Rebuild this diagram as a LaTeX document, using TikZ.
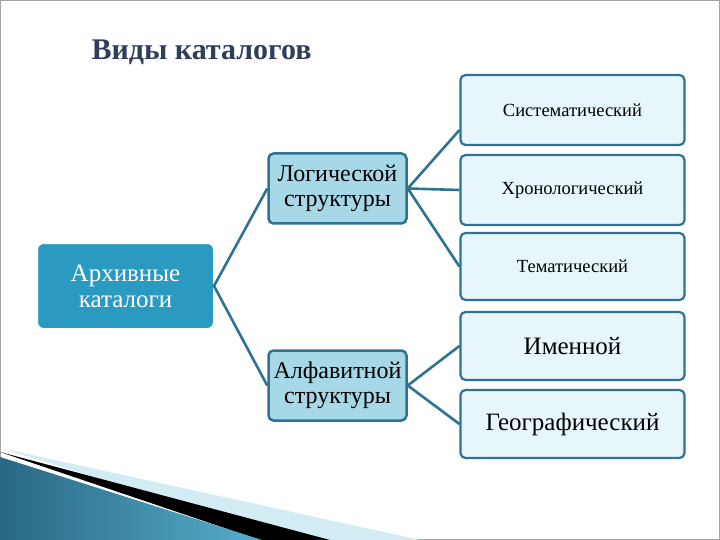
\documentclass[tikz,border=0pt]{standalone}
\usepackage{fontspec}
\setmainfont{Liberation Serif}
\definecolor{teal1}{HTML}{2B9AC0}
\definecolor{dteal}{HTML}{2E7391}
\definecolor{lblue}{HTML}{A6D8E8}
\definecolor{pale}{HTML}{E6F6FA}
\definecolor{ttl}{HTML}{2F3F5A}
\begin{document}
\begin{tikzpicture}[x=1pt,y=-1pt,
 rbox/.style={draw=dteal,line width=2.2pt,fill=pale,rounded corners=5pt,minimum width=224pt,align=center,inner sep=0pt},
 mbox/.style={draw=dteal,line width=2.5pt,fill=lblue,rounded corners=5pt,minimum width=138pt,minimum height=70pt,align=center,inner sep=0pt,font=\fontsize{24}{25}\selectfont},
 conn/.style={draw=dteal,line width=2.6pt}]
\useasboundingbox (0,0) rectangle (720,540);
\fill[white] (0,0) rectangle (720,540);
\draw[gray!70,line width=1pt] (0.5,0.5) rectangle (719.5,539.5);
% swoosh
\fill[lblue!50] (0,448) -- (420,540) -- (300,540) -- cycle;
\fill[black] (0,452) -- (330,540) -- (260,540) -- cycle;
\shade[left color=dteal!90!black,right color=teal1!80] (0,457) -- (262,540) -- (0,540) -- cycle;
\node[font=\bfseries\fontsize{30}{32}\selectfont,text=ttl,anchor=west] (title) at (88,52) {Виды каталогов};
\node[fill=teal1,draw=white,line width=1pt,rounded corners=6pt,minimum width=176pt,minimum height=85pt,align=center,text=white,font=\fontsize{25}{26}\selectfont] (arch) at (125.5,286) {Архивные\\каталоги};
\node[mbox] (log) at (337.5,188.5) {Логической\\структуры};
\node[mbox] (alf) at (337.5,385.5) {Алфавитной\\структуры};
\node[rbox,minimum height=70pt,font=\fontsize{18.5}{20}\selectfont] (sys) at (572.5,110) {Систематический};
\node[rbox,minimum height=70pt,font=\fontsize{18.5}{20}\selectfont] (chr) at (572.5,190) {Хронологический};
\node[rbox,minimum height=67pt,font=\fontsize{18.5}{20}\selectfont] (tem) at (572.5,266.5) {Тематический};
\node[rbox,minimum height=68pt,font=\fontsize{25}{26}\selectfont] (im) at (572.5,346) {Именной};
\node[rbox,minimum height=68pt,font=\fontsize{25}{26}\selectfont] (geo) at (572.5,424) {Географический};
\draw[conn] (log.west) -- (arch.east) -- (alf.west);
\path (sys.south west) ++(0,-16) coordinate (s1);
\draw[conn] (s1) -- (log.east) -- (chr.west);
\draw[conn] (log.east) -- (tem.west);
\draw[conn] (im.west) -- (alf.east) -- (geo.west);
\end{tikzpicture}
\end{document}
